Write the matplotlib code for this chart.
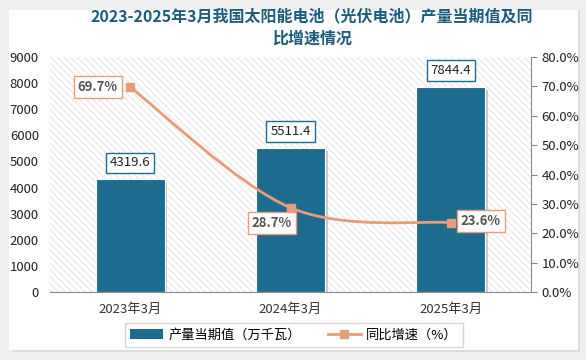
import matplotlib.pyplot as plt
import matplotlib.patheffects as pe
from matplotlib.patches import Rectangle, Patch
from matplotlib.lines import Line2D
from matplotlib.path import Path
from matplotlib.patches import PathPatch
from matplotlib.ticker import FuncFormatter

plt.rcParams['font.family'] = ['Noto Sans CJK SC', 'DejaVu Sans']
plt.rcParams['hatch.linewidth'] = 0.5

categories = ["2023年3月", "2024年3月", "2025年3月"]
output_values = [4319.6, 5511.4, 7844.4]
growth_rates = [69.7, 28.7, 23.6]

bar_color = "#1d6b8f"
line_color = "#e89d7a"
title_color = "#1d5c7d"

fig = plt.figure(figsize=(5.86, 3.6), dpi=100)
fig.patch.set_facecolor("#efefef")

# white panel with a soft shadow
shadow = Rectangle((12 / 586, 8 / 360), 568 / 586, 342 / 360, transform=fig.transFigure,
                   facecolor="#dddddd", edgecolor="none", zorder=-10)
panel = Rectangle((9 / 586, 10 / 360), 569 / 586, 340 / 360, transform=fig.transFigure,
                  facecolor="white", edgecolor="none", zorder=-9)
fig.patches.extend([shadow, panel])

ax = fig.add_axes([50 / 586, (360 - 292) / 360, 481 / 586, 235 / 360])
ax.patch.set_alpha(0)
bg = Rectangle((0, 0), 1, 1, transform=ax.transAxes, facecolor="white",
               edgecolor="#dcdcdc", hatch="\\\\\\\\\\", linewidth=0, zorder=0)
ax.add_patch(bg)

x = list(range(len(categories)))
bars = ax.bar(x, output_values, width=0.43, color=bar_color, zorder=2,
              edgecolor="white", linewidth=0.8)
for b in bars:
    b.set_path_effects([pe.SimplePatchShadow(offset=(2, -2), shadow_rgbFace="#999999", alpha=0.5),
                        pe.Normal()])

for xi, v in zip(x, output_values):
    ax.annotate(f"{v:.1f}", (xi, v), xytext=(0, 7), textcoords="offset points",
                ha="center", va="bottom", fontsize=9.5, color="#222222", zorder=5,
                bbox=dict(boxstyle="square,pad=0.3", fc="white", ec=bar_color, lw=1))

ax.set_xlim(-0.5, 2.5)
ax.set_ylim(0, 9000)
ax.set_yticks(range(0, 9001, 1000))
ax.set_xticks(x)
ax.set_xticklabels(categories, fontsize=9.5, color="#333333")
ax.tick_params(axis="y", length=0, labelsize=9.5, labelcolor="#222222", pad=8)
ax.tick_params(axis="x", length=0, pad=8)
for s in ["top", "right", "left"]:
    ax.spines[s].set_visible(False)
ax.spines["bottom"].set_color("#888888")

ax2 = ax.twinx()
ax2.set_ylim(0, 80)
ax2.set_yticks(range(0, 81, 10))
ax2.yaxis.set_major_formatter(FuncFormatter(lambda v, p: f"{v:.1f}%"))
ax2.tick_params(axis="y", labelsize=9.5, labelcolor="#222222", length=4, color="#888888")
for s in ["top", "left", "bottom"]:
    ax2.spines[s].set_visible(False)
ax2.spines["right"].set_color("#888888")

# smooth line through the growth points (bezier, like a spreadsheet smooth line)
pts = list(zip(x, growth_rates))
verts = [pts[0]]
codes = [Path.MOVETO]
for i in range(len(pts) - 1):
    p0 = pts[i - 1] if i > 0 else pts[i]
    p1 = pts[i]
    p2 = pts[i + 1]
    p3 = pts[i + 2] if i + 2 < len(pts) else pts[i + 1]
    c1 = (p1[0] + (p2[0] - p0[0]) / 6, p1[1] + (p2[1] - p0[1]) / 6)
    c2 = (p2[0] - (p3[0] - p1[0]) / 6, p2[1] - (p3[1] - p1[1]) / 6)
    verts += [c1, c2, p2]
    codes += [Path.CURVE4] * 3
ax2.add_patch(PathPatch(Path(verts, codes), fc="none", ec=line_color, lw=2, zorder=3))
ax2.plot(x, growth_rates, ls="none", marker="s", ms=6, color=line_color, zorder=4)

offsets = [(-9, 0, "right", "center"), (1, -6, "right", "top"), (7, 1, "left", "center")]
for xi, v, (dx, dy, ha, va) in zip(x, growth_rates, offsets):
    ax2.annotate(f"{v:.1f}%", (xi, v), xytext=(dx, dy), textcoords="offset points",
                 ha=ha, va=va, fontsize=9.5, color="#555555", fontweight="bold", zorder=5,
                 bbox=dict(boxstyle="square,pad=0.3", fc="white", ec=line_color, lw=1))

fig.text(312 / 586, 1 - 16 / 360, "2023-2025年3月我国太阳能电池（光伏电池）产量当期值及同",
         ha="center", va="center", fontsize=11.5, fontweight="bold", color=title_color)
fig.text(312 / 586, 1 - 39 / 360, "比增速情况",
         ha="center", va="center", fontsize=11.5, fontweight="bold", color=title_color)

handles = [Patch(facecolor=bar_color, edgecolor="none"),
           Line2D([0], [0], color=line_color, lw=2, marker="s", ms=6)]
fig.legend(handles, ["产量当期值（万千瓦）", "同比增速（%）"], loc="center",
           bbox_to_anchor=(294 / 586, 1 - 335 / 360), ncol=2, fontsize=9.5,
           frameon=True, fancybox=False, edgecolor="#cccccc", columnspacing=2,
           handlelength=2.5, handletextpad=0.4, borderpad=0.4)

fig.savefig("out.png", dpi=100, facecolor=fig.get_facecolor())
